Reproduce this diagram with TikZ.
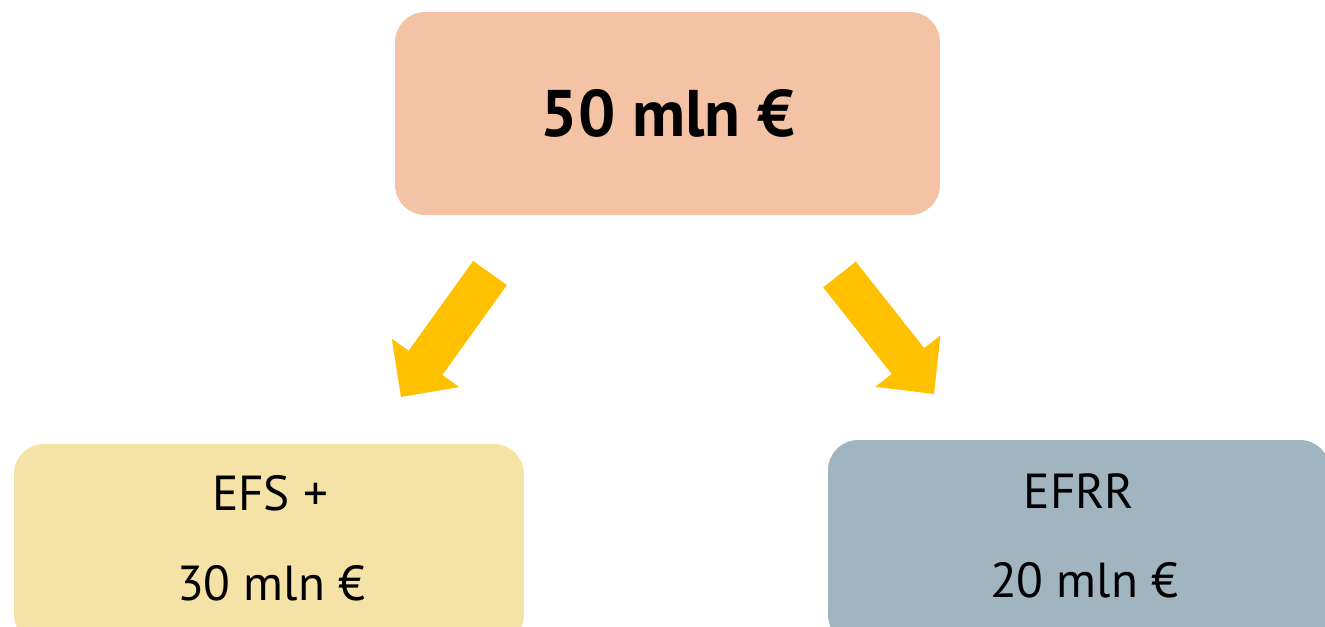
\documentclass[tikz,border=0pt]{standalone}
\usepackage{fontspec}
\setmainfont{PT Sans}
\usetikzlibrary{arrows.meta}
\definecolor{peach}{RGB}{244,195,165}
\definecolor{sand}{RGB}{245,226,166}
\definecolor{slate}{RGB}{160,181,191}
\definecolor{amber}{RGB}{255,192,0}
\begin{document}
\begin{tikzpicture}[x=0.02cm,y=-0.02cm,
  box/.style={rounded corners=0.6cm, inner sep=0pt, draw=none},
  big/.style={font=\fontsize{37.5}{44}\selectfont\bfseries},
  lbl/.style={font=\fontsize{28}{34}\selectfont, anchor=base, inner sep=0pt},
  flow/.style={draw=amber, line width=0.83cm,
    -{Triangle[width=1.66cm 0, length=0.84cm 0, line width=0pt 0]}}]
\useasboundingbox (0,0) rectangle (1325,626);
\clip (0,0) rectangle (1325,626);
\node[box, fill=peach, minimum width=10.9cm, minimum height=4.06cm, big] (top) at (667.5,113.5) {50 mln €};
\node[box, fill=sand, minimum width=10.2cm, minimum height=4.02cm] (efs) at (269,544.5) {};
\node[box, fill=slate, minimum width=10.04cm, minimum height=4.1cm] (efrr) at (1079,542.5) {};
\node[lbl] (efsa) at (270,510) {EFS +};
\node[lbl] (efsb) at (271,600) {30 mln €};
\node[lbl] (efrra) at (1079,508) {EFRR};
\node[lbl] (efrrb) at (1084,597) {20 mln €};
\coordinate (lt) at (490,273);
\coordinate (lh) at (401,397);
\coordinate (rt) at (839.5,274.5);
\coordinate (rh) at (934,394);
\draw[flow] (lt) -- (lh);
\draw[flow] (rt) -- (rh);
\end{tikzpicture}
\end{document}
